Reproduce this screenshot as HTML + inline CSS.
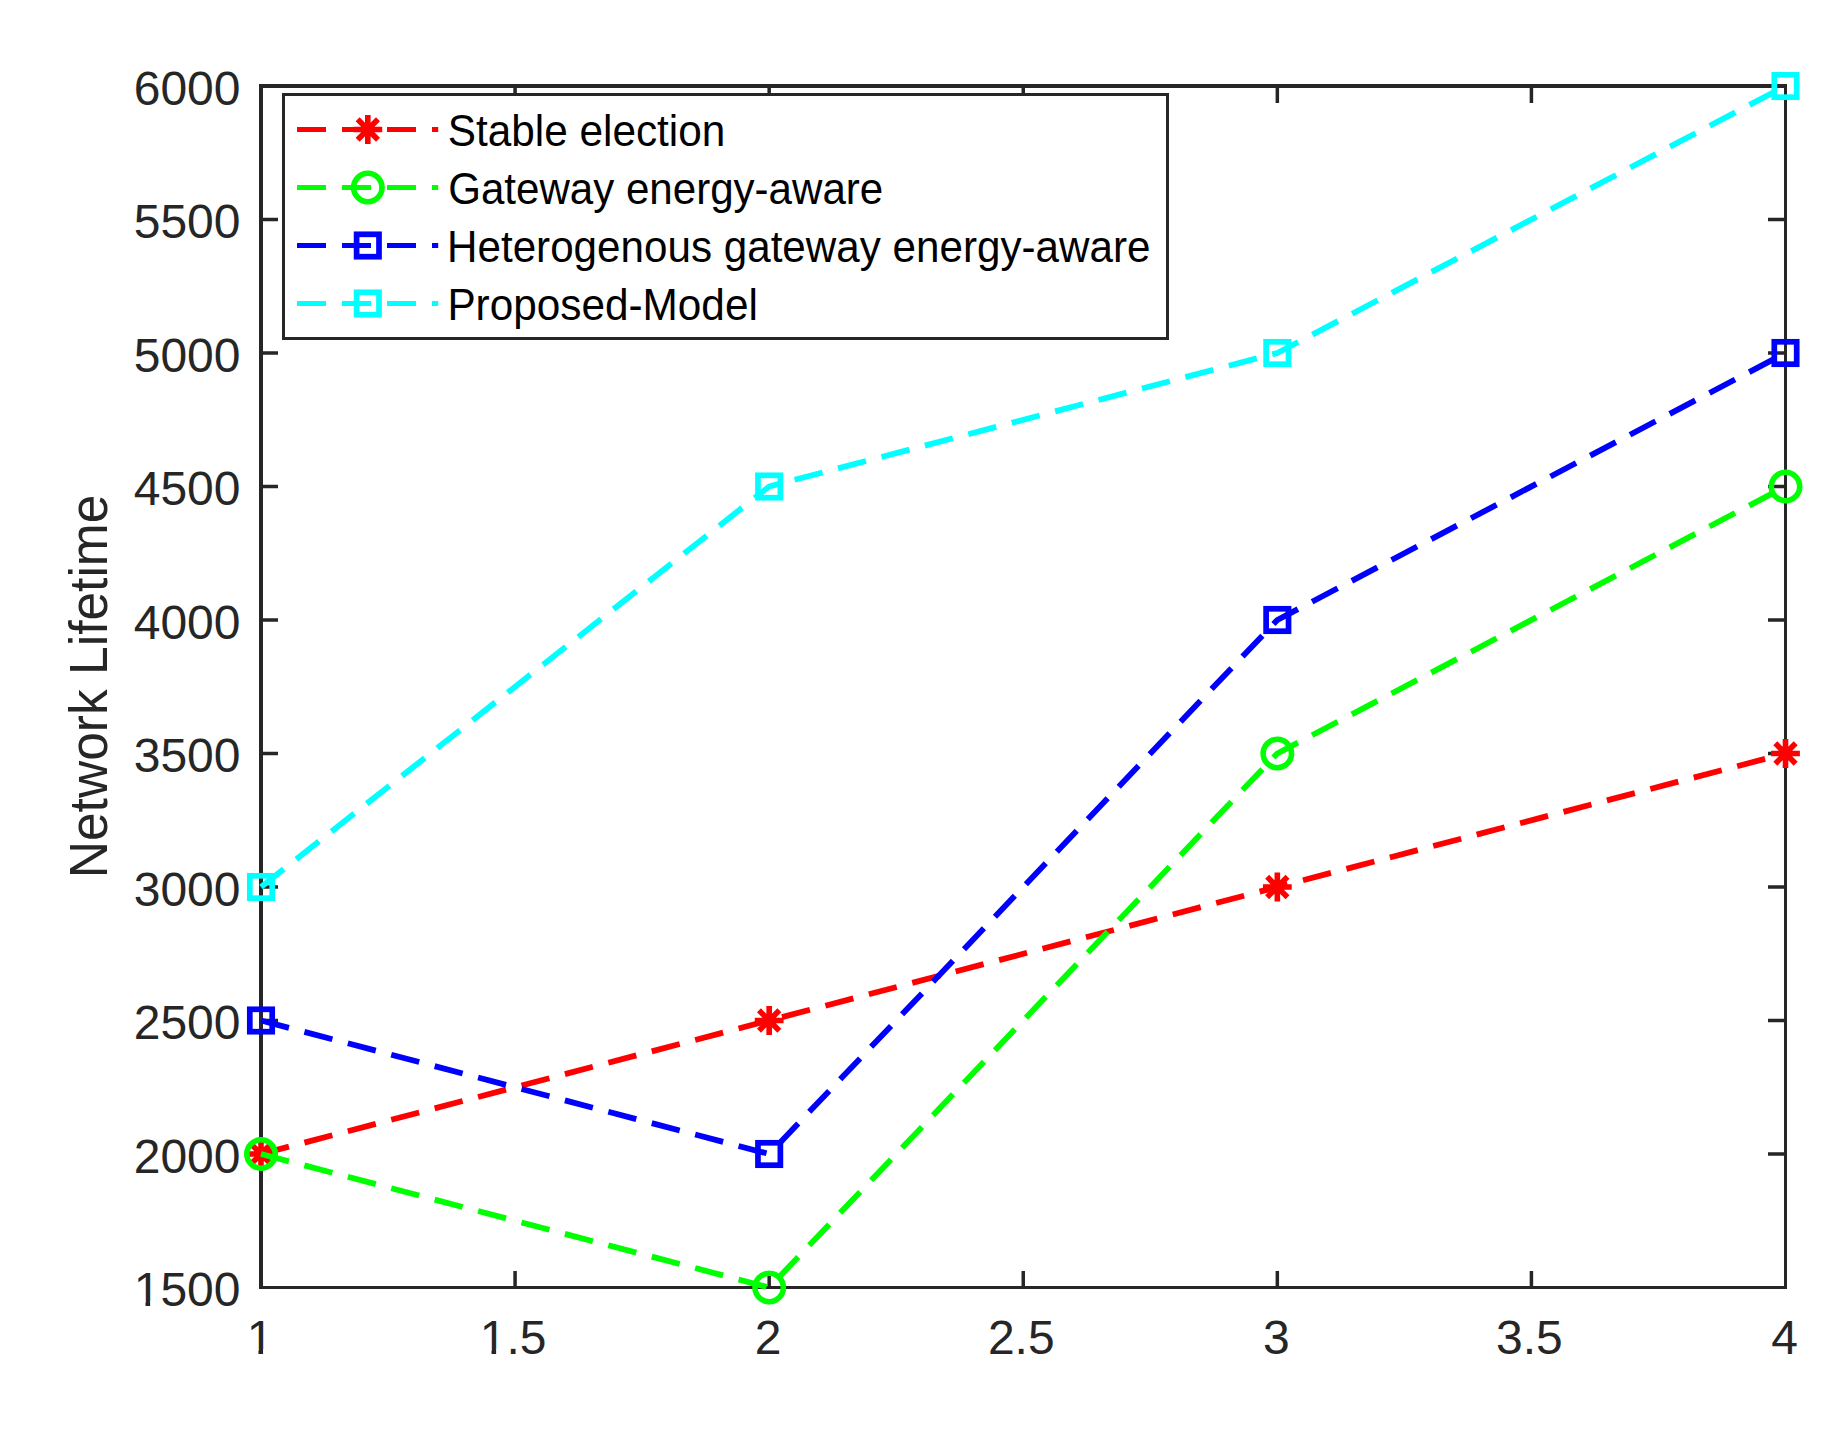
<!DOCTYPE html>
<html lang="en"><head><meta charset="utf-8"><title>Network Lifetime</title>
<style>html,body{margin:0;padding:0;background:#fff}svg{display:block}text{font-family:"Liberation Sans",sans-serif}</style></head><body>
<svg width="1846" height="1443" viewBox="0 0 1846 1443">
<rect x="0" y="0" width="1846" height="1443" fill="#ffffff"/>
<g fill="#262626" shape-rendering="crispEdges">
<rect x="259" y="84" width="4" height="1205"/>
<rect x="259" y="84" width="1528" height="4"/>
<rect x="1784" y="84" width="3" height="1205"/>
<rect x="259" y="1286" width="1528" height="3"/>
</g>
<g stroke="#262626" stroke-width="3.5" fill="none">
<path d="M515.08 1286V1271M515.08 88V103"/>
<path d="M769.17 1286V1271M769.17 88V103"/>
<path d="M1023.25 1286V1271M1023.25 88V103"/>
<path d="M1277.33 1286V1271M1277.33 88V103"/>
<path d="M1531.42 1286V1271M1531.42 88V103"/>
<path d="M263 219.50H278M1784 219.50H1768"/>
<path d="M263 353.00H278M1784 353.00H1768"/>
<path d="M263 486.50H278M1784 486.50H1768"/>
<path d="M263 620.00H278M1784 620.00H1768"/>
<path d="M263 753.50H278M1784 753.50H1768"/>
<path d="M263 887.00H278M1784 887.00H1768"/>
<path d="M263 1020.50H278M1784 1020.50H1768"/>
<path d="M263 1154.00H278M1784 1154.00H1768"/>
</g>
<g fill="#262626" font-size="48">
<text x="240.5" y="104.60" text-anchor="end">6000</text>
<text x="240.5" y="238.10" text-anchor="end">5500</text>
<text x="240.5" y="371.60" text-anchor="end">5000</text>
<text x="240.5" y="505.10" text-anchor="end">4500</text>
<text x="240.5" y="638.60" text-anchor="end">4000</text>
<text x="240.5" y="772.10" text-anchor="end">3500</text>
<text x="240.5" y="905.60" text-anchor="end">3000</text>
<text x="240.5" y="1039.10" text-anchor="end">2500</text>
<text x="240.5" y="1172.60" text-anchor="end">2000</text>
<text x="240.5" y="1306.10" text-anchor="end">1500</text>
<text x="260.00" y="1354.3" text-anchor="middle">1</text>
<text x="513.08" y="1354.3" text-anchor="middle">1.5</text>
<text x="768.17" y="1354.3" text-anchor="middle">2</text>
<text x="1021.25" y="1354.3" text-anchor="middle">2.5</text>
<text x="1276.33" y="1354.3" text-anchor="middle">3</text>
<text x="1529.42" y="1354.3" text-anchor="middle">3.5</text>
<text x="1784.50" y="1354.3" text-anchor="middle">4</text>
</g>
<path d="M135.92 1301.15H145.50V1307.10H135.92ZM150.12 1301.15H159.52V1307.10H150.12Z" fill="#ffffff"/>
<path d="M248.85 1349.35H258.43V1355.30H248.85ZM263.05 1349.35H272.45V1355.30H263.05Z" fill="#ffffff"/>
<path d="M481.92 1349.35H491.50V1355.30H481.92ZM496.12 1349.35H505.52V1355.30H496.12Z" fill="#ffffff"/>
<text transform="translate(106.9 686.4) rotate(-90) scale(0.9545 1)" font-size="54" fill="#262626" text-anchor="middle">Network Lifetime</text>
<polyline points="261.00,1154.00 769.17,1020.50 1277.33,887.00 1785.50,753.50" fill="none" stroke="#ff0000" stroke-width="5.8" stroke-dasharray="28.89 16" stroke-linejoin="round"/>
<path d="M246.60 1154.00H275.40M261.00 1139.60V1168.40M250.82 1143.82L271.18 1164.18M250.82 1164.18L271.18 1143.82" stroke="#ff0000" stroke-width="5.6" fill="none"/>
<path d="M754.77 1020.50H783.57M769.17 1006.10V1034.90M758.98 1010.32L779.35 1030.68M758.98 1030.68L779.35 1010.32" stroke="#ff0000" stroke-width="5.6" fill="none"/>
<path d="M1262.93 887.00H1291.73M1277.33 872.60V901.40M1267.15 876.82L1287.52 897.18M1267.15 897.18L1287.52 876.82" stroke="#ff0000" stroke-width="5.6" fill="none"/>
<path d="M1771.10 753.50H1799.90M1785.50 739.10V767.90M1775.32 743.32L1795.68 763.68M1775.32 763.68L1795.68 743.32" stroke="#ff0000" stroke-width="5.6" fill="none"/>
<polyline points="261.00,1154.00 769.17,1287.50 1277.33,753.50 1785.50,486.50" fill="none" stroke="#00ff00" stroke-width="5.8" stroke-dasharray="28.89 16" stroke-linejoin="round"/>
<circle cx="261.00" cy="1154.00" r="14.2" stroke="#00ff00" stroke-width="5.6" fill="none"/>
<circle cx="769.17" cy="1287.50" r="14.2" stroke="#00ff00" stroke-width="5.6" fill="none"/>
<circle cx="1277.33" cy="753.50" r="14.2" stroke="#00ff00" stroke-width="5.6" fill="none"/>
<circle cx="1785.50" cy="486.50" r="14.2" stroke="#00ff00" stroke-width="5.6" fill="none"/>
<polyline points="261.00,1020.50 769.17,1154.00 1277.33,620.00 1785.50,353.00" fill="none" stroke="#0000ff" stroke-width="5.8" stroke-dasharray="28.89 16" stroke-linejoin="round"/>
<rect x="249.80" y="1009.30" width="22.4" height="22.4" stroke="#0000ff" stroke-width="5.7" fill="none"/>
<rect x="757.97" y="1142.80" width="22.4" height="22.4" stroke="#0000ff" stroke-width="5.7" fill="none"/>
<rect x="1266.13" y="608.80" width="22.4" height="22.4" stroke="#0000ff" stroke-width="5.7" fill="none"/>
<rect x="1774.30" y="341.80" width="22.4" height="22.4" stroke="#0000ff" stroke-width="5.7" fill="none"/>
<polyline points="261.00,887.00 769.17,486.50 1277.33,353.00 1785.50,86.00" fill="none" stroke="#00ffff" stroke-width="5.8" stroke-dasharray="28.89 16" stroke-linejoin="round"/>
<rect x="249.80" y="875.80" width="22.4" height="22.4" stroke="#00ffff" stroke-width="5.7" fill="none"/>
<rect x="757.97" y="475.30" width="22.4" height="22.4" stroke="#00ffff" stroke-width="5.7" fill="none"/>
<rect x="1266.13" y="341.80" width="22.4" height="22.4" stroke="#00ffff" stroke-width="5.7" fill="none"/>
<rect x="1774.30" y="74.80" width="22.4" height="22.4" stroke="#00ffff" stroke-width="5.7" fill="none"/>
<rect x="283.5" y="94.5" width="884" height="244" fill="#ffffff" stroke="#262626" stroke-width="3"/>
<path d="M353.40 129.50H382.20M367.80 115.10V143.90M357.62 119.32L377.98 139.68M357.62 139.68L377.98 119.32" stroke="#ff0000" stroke-width="5.6" fill="none"/>
<path d="M297 129.5H438.2" stroke="#ff0000" stroke-width="5.0" stroke-dasharray="29 16" fill="none"/>
<text transform="translate(447.8 146.10) scale(0.9617 1)" font-size="44" fill="#000000">Stable election</text>
<circle cx="367.80" cy="187.50" r="14.2" stroke="#00ff00" stroke-width="5.6" fill="none"/>
<path d="M297 187.5H438.2" stroke="#00ff00" stroke-width="5.0" stroke-dasharray="29 16" fill="none"/>
<text transform="translate(448.2 204.10) scale(0.9565 1)" font-size="44" fill="#000000">Gateway energy-aware</text>
<rect x="356.60" y="234.30" width="22.4" height="22.4" stroke="#0000ff" stroke-width="5.7" fill="none"/>
<path d="M297 245.5H438.2" stroke="#0000ff" stroke-width="5.0" stroke-dasharray="29 16" fill="none"/>
<text transform="translate(447.0 262.10) scale(0.959 1)" font-size="44" fill="#000000">Heterogenous gateway energy-aware</text>
<rect x="356.60" y="292.30" width="22.4" height="22.4" stroke="#00ffff" stroke-width="5.7" fill="none"/>
<path d="M297 303.5H438.2" stroke="#00ffff" stroke-width="5.0" stroke-dasharray="29 16" fill="none"/>
<text transform="translate(447.4 320.10) scale(0.9617 1)" font-size="44" fill="#000000">Proposed-Model</text>
</svg></body></html>
